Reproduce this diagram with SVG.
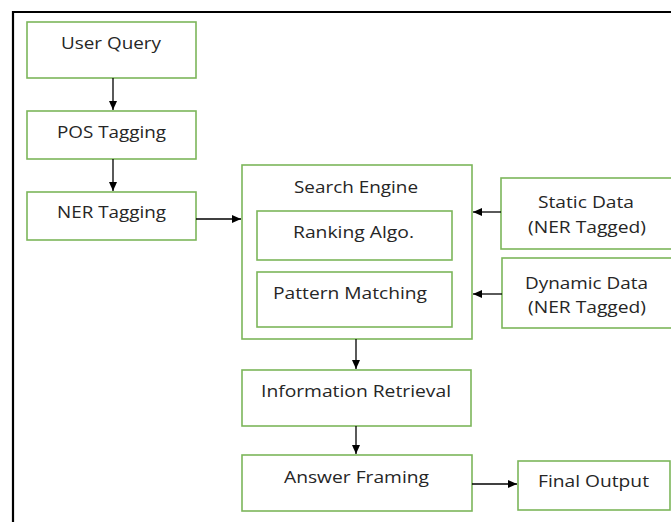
<svg xmlns="http://www.w3.org/2000/svg" width="671" height="522" viewBox="0 0 671 522">
<defs>
<marker id="ah" markerWidth="10" markerHeight="10" refX="9" refY="5" orient="auto" markerUnits="userSpaceOnUse">
<path d="M0,1 L9,5 L0,9 Z" fill="#000"/>
</marker>
<style>
.box{fill:#fff;stroke:#7CB65A;stroke-width:1.6}
.t{font-family:"Open Sans","Noto Sans",sans-serif;font-size:16.5px;fill:#262626;text-anchor:middle}
.c{stroke:#000;stroke-width:1.3;fill:none;marker-end:url(#ah)}
</style>
</defs>
<rect width="671" height="522" fill="#fff"/>
<g id="frame"><path d="M13,522 L13,12 L671,12" fill="none" stroke="#000" stroke-width="2.2"/></g>
<g id="user-query"><rect class="box" x="27" y="22" width="169" height="56"/><text class="t" x="111" y="49" textLength="100" lengthAdjust="spacingAndGlyphs">User Query</text></g>
<g id="pos-tagging"><rect class="box" x="27" y="111" width="169" height="48"/><text class="t" x="111.5" y="138" textLength="109" lengthAdjust="spacingAndGlyphs">POS Tagging</text></g>
<g id="ner-tagging"><rect class="box" x="27" y="192" width="169" height="48"/><text class="t" x="111.5" y="218" textLength="109" lengthAdjust="spacingAndGlyphs">NER Tagging</text></g>
<g id="search-engine"><rect class="box" x="242" y="165" width="230" height="174"/><text class="t" x="356" y="193" textLength="124" lengthAdjust="spacingAndGlyphs">Search Engine</text></g>
<g id="ranking-algo"><rect class="box" x="257" y="211" width="195" height="49"/><text class="t" x="353.5" y="238" textLength="121" lengthAdjust="spacingAndGlyphs">Ranking Algo.</text></g>
<g id="pattern-matching"><rect class="box" x="257" y="272" width="195" height="55"/><text class="t" x="350" y="299" textLength="154" lengthAdjust="spacingAndGlyphs">Pattern Matching</text></g>
<g id="static-data"><rect class="box" x="501" y="178" width="172" height="71"/><text class="t" x="586" y="208" textLength="96" lengthAdjust="spacingAndGlyphs">Static Data</text><text class="t" x="587" y="233" textLength="118" lengthAdjust="spacingAndGlyphs">(NER Tagged)</text></g>
<g id="dynamic-data"><rect class="box" x="502" y="258" width="171" height="70"/><text class="t" x="586.5" y="289" textLength="123" lengthAdjust="spacingAndGlyphs">Dynamic Data</text><text class="t" x="587" y="313" textLength="118" lengthAdjust="spacingAndGlyphs">(NER Tagged)</text></g>
<g id="information-retrieval"><rect class="box" x="242" y="370" width="229" height="56"/><text class="t" x="356" y="397" textLength="190" lengthAdjust="spacingAndGlyphs">Information Retrieval</text></g>
<g id="answer-framing"><rect class="box" x="242" y="455" width="230" height="56"/><text class="t" x="356.5" y="483" textLength="145" lengthAdjust="spacingAndGlyphs">Answer Framing</text></g>
<g id="final-output"><rect class="box" x="518" y="461" width="152" height="49"/><text class="t" x="593.5" y="487" textLength="111" lengthAdjust="spacingAndGlyphs">Final Output</text></g>
<g id="connectors">
<line class="c" x1="113" y1="78" x2="113" y2="110"/>
<line class="c" x1="113" y1="159" x2="113" y2="191"/>
<line class="c" x1="196" y1="219" x2="241" y2="219"/>
<line class="c" x1="501" y1="212" x2="473" y2="212"/>
<line class="c" x1="502" y1="294" x2="473" y2="294"/>
<line class="c" x1="356" y1="339" x2="356" y2="369"/>
<line class="c" x1="356" y1="426" x2="356" y2="454"/>
<line class="c" x1="472" y1="484" x2="517" y2="484"/>
</g>
</svg>
